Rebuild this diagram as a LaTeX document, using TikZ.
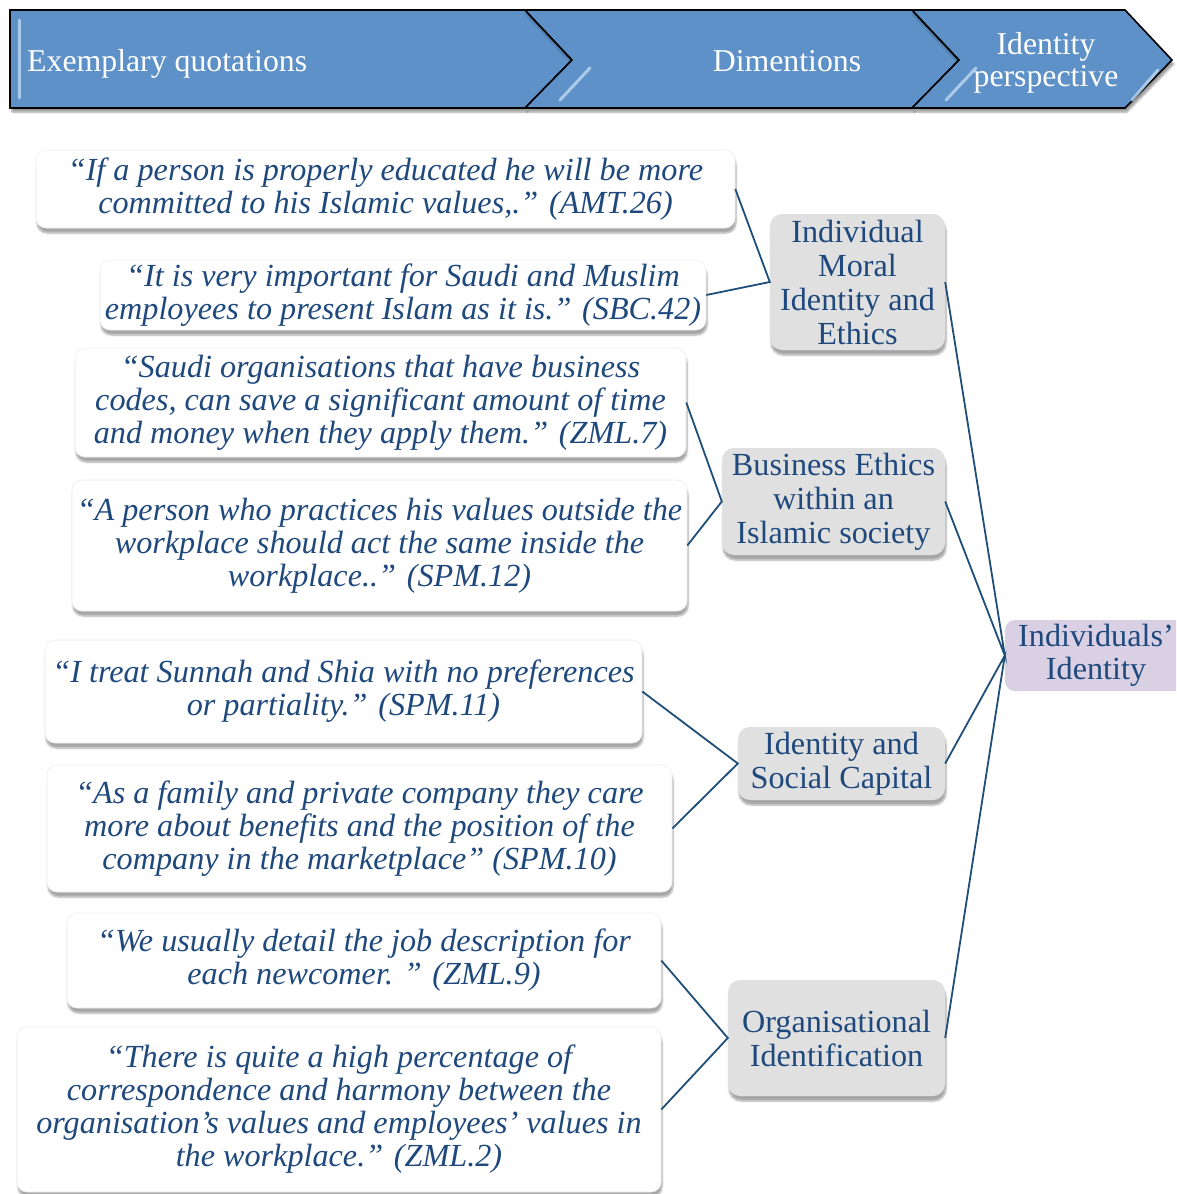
\documentclass[tikz,border=0pt]{standalone}
\usepackage{fontspec}
\setmainfont{Liberation Serif}
\usetikzlibrary{shadows.blur}

\definecolor{headblue}{HTML}{5E91C7}
\definecolor{headhi}{HTML}{BFD9F3}
\definecolor{textblue}{HTML}{1F497D}
\definecolor{linkblue}{HTML}{1F4E79}
\definecolor{dimgray}{HTML}{E0E0E0}
\definecolor{rootlav}{HTML}{D9D0E3}

\tikzset{
  softshadow/.style={blur shadow={shadow xshift=1pt, shadow yshift=-5pt,
      shadow blur steps=6, shadow blur extra rounding=2pt, shadow opacity=35}},
  chevron/.style={fill=headblue, draw=black, line width=1.6pt, line join=miter,
      blur shadow={shadow xshift=2pt, shadow yshift=-4pt, shadow blur steps=5, shadow opacity=40}},
  headhilite/.style={draw=headhi, line width=3pt, line cap=round, opacity=0.8},
  headtext/.style={text=white, inner sep=0pt, align=center,
      font=\fontsize{31.8}{32}\selectfont},
  quote/.style={fill=white, draw=black!7, line width=0.6pt, rounded corners=10pt,
      softshadow, inner sep=0pt, align=center, text=textblue,
      font=\fontsize{32.2}{33}\selectfont\itshape},
  dimbox/.style={fill=dimgray, rounded corners=12pt, softshadow, inner sep=0pt,
      align=center, text=textblue, font=\fontsize{32.2}{34}\selectfont},
  rootbox/.style={fill=rootlav, rounded corners=10pt, inner sep=0pt,
      align=center, text=textblue, font=\fontsize{32.2}{33}\selectfont},
  link/.style={draw=linkblue, line width=1.8pt, line join=miter}
}

\begin{document}
\begin{tikzpicture}[x=1pt, y=-1pt]
  \useasboundingbox (0,0) rectangle (1176,1194);
  \clip (0,0) rectangle (1176,1194);

  % header band of three chevrons
  \path[chevron] (10,10) -- (525,10) -- (572,60) -- (525,108) -- (10,108) -- cycle;
  \path[chevron] (525,10) -- (912,10) -- (959,60) -- (912,108) -- (525,108) -- (572,60) -- cycle;
  \path[chevron] (912,10) -- (1125,10) -- (1172,60) -- (1125,108) -- (912,108) -- (959,60) -- cycle;
  % bevel highlights
  \draw[headhilite] (19,20) -- (19,98);
  \draw[headhilite] (590,68) -- (560,100);
  \draw[headhilite] (976,68) -- (946,100);
  \draw[headhilite] (1158,70) -- (1132,100);

  \node[headtext, anchor=west] (h1) at (27,64) {Exemplary quotations};
  \node[headtext] (h2) at (787,61) {Dimentions};
  \node[headtext] (h3) at (1046,63) {Identity\\perspective};

  % quotation boxes
  \node[quote, minimum width=699, minimum height=78] (q1) at (385.5,189)
    {“If a person is properly educated he will be more\\committed to his Islamic values,.” (AMT.26)};
  \node[quote, minimum width=606, minimum height=70] (q2) at (403,295)
    {“It is very important for Saudi and Muslim\\employees to present Islam as it is.” (SBC.42)};
  \node[quote, minimum width=611, minimum height=109] (q3) at (380.5,402.5)
    {“Saudi organisations that have business\\codes, can save a significant amount of time\\and money when they apply them.” (ZML.7)};
  \node[quote, minimum width=615, minimum height=131] (q4) at (379.5,545.5)
    {“A person who practices his values outside the\\workplace should act the same inside the\\workplace..” (SPM.12)};
  \node[quote, minimum width=597, minimum height=103] (q5) at (343.5,691.5)
    {“I treat Sunnah and Shia with no preferences\\or partiality.” (SPM.11)};
  \node[quote, minimum width=625, minimum height=127] (q6) at (359.5,828.5)
    {“As a family and private company they care\\more about benefits and the position of the\\company in the marketplace” (SPM.10)};
  \node[quote, minimum width=594, minimum height=95] (q7) at (364,960.5)
    {“We usually detail the job description for\\each newcomer. ” (ZML.9)};
  \node[quote, minimum width=644, minimum height=165] (q8) at (339,1109.5)
    {“There is quite a high percentage of\\correspondence and harmony between the\\organisation’s values and employees’ values in\\the workplace.” (ZML.2)};

  % dimension boxes
  \node[dimbox, minimum width=175, minimum height=136] (d1) at (857.5,282)
    {Individual\\Moral\\Identity and\\Ethics};
  \node[dimbox, minimum width=223, minimum height=107] (d2) at (833.5,501.5)
    {Business Ethics\\within an\\Islamic society};
  \node[dimbox, minimum width=207, minimum height=73] (d3) at (841.5,763.5)
    {Identity and\\Social Capital};
  \node[dimbox, minimum width=217, minimum height=116] (d4) at (836.5,1038)
    {Organisational\\Identification};

  % identity perspective
  \node[rootbox, minimum width=182, minimum height=71] (root) at (1096,655.5)
    {Individuals’\\Identity};

  % connectors
  \draw[link] (q1.east) -- (d1.west) -- (q2.east);
  \draw[link] (q3.east) -- (d2.west) -- (q4.east);
  \draw[link] (q5.east) -- (d3.west) -- (q6.east);
  \draw[link] (q7.east) -- (d4.west) -- (q8.east);
  \draw[link] (d1.east) -- (root.west) -- (d2.east);
  \draw[link] (d3.east) -- (root.west) -- (d4.east);
\end{tikzpicture}
\end{document}
